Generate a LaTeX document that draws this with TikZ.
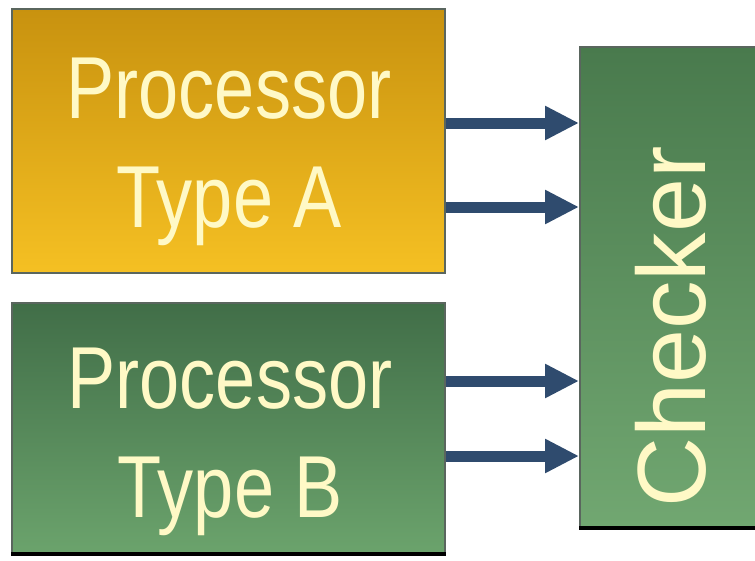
\documentclass[tikz,border=0pt]{standalone}
\usepackage{fontspec}
\setmainfont{Liberation Sans}
\newfontfamily\condfont[FakeStretch=0.82]{Liberation Sans}
\usetikzlibrary{arrows.meta}
\definecolor{atop}{HTML}{C8920F}
\definecolor{abot}{HTML}{F5C023}
\definecolor{btop}{HTML}{416E48}
\definecolor{bbot}{HTML}{6BA36C}
\definecolor{ctop}{HTML}{497A4D}
\definecolor{cbot}{HTML}{71A771}
\definecolor{edge}{HTML}{5A665E}
\definecolor{shade}{HTML}{4B6452}
\definecolor{txt}{HTML}{FFF9C6}
\definecolor{arrowc}{HTML}{2F4B6E}
\begin{document}
\begin{tikzpicture}[x=1pt,y=-1pt,
  box/.style={draw=edge, line width=2pt, rectangle, inner sep=0pt},
  lbl/.style={text=txt, inner sep=0pt, anchor=base, font=\condfont\fontsize{88}{100}\selectfont},
  arr/.style={draw=arrowc, line width=11pt, -{Triangle[length=34pt,width=32pt]}}]
\useasboundingbox (0,0) rectangle (755,560);
\fill[white] (0,0) rectangle (755,560);
% boxes
\node[box, minimum width=433pt, minimum height=264pt, top color=atop, bottom color=abot] (boxA) at (228.5,141) {};
\node[box, minimum width=433pt, minimum height=250pt, top color=btop, bottom color=bbot] (boxB) at (228.5,428) {};
\node[box, minimum width=182pt, minimum height=480pt, top color=ctop, bottom color=cbot] (checker) at (671,287) {};
\draw[shade, line width=3.5pt] (boxB.south west) -- (boxB.south east);
\draw[shade, line width=3.5pt] (checker.south west) -- (checker.south east);
% labels
\node[lbl] (pa) at (229,118) {Processor};
\node[lbl] (ta) at (229,227) {Type A};
\node[lbl] (pb) at (230,408) {Processor};
\node[lbl] (tb) at (230,517) {Type B};
\node[text=txt, inner sep=0pt, anchor=base, rotate=90, font=\fontsize{97}{100}\selectfont] (chk) at (705,327) {Checker};
% arrows
\draw[arr] ([yshift=18pt]boxA.east) -- ([yshift=18pt]boxA.east -| checker.west);
\draw[arr] ([yshift=-66pt]boxA.east) -- ([yshift=-66pt]boxA.east -| checker.west);
\draw[arr] ([yshift=47pt]boxB.east) -- ([yshift=47pt]boxB.east -| checker.west);
\draw[arr] ([yshift=-28pt]boxB.east) -- ([yshift=-28pt]boxB.east -| checker.west);
\end{tikzpicture}
\end{document}
